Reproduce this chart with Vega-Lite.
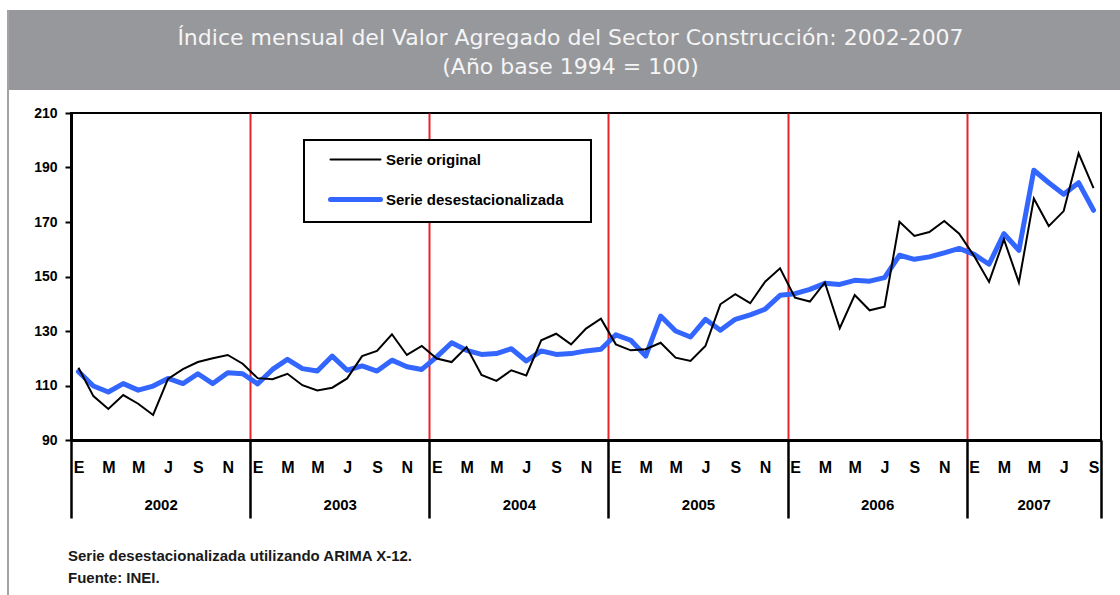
{
  "$schema": "https://vega.github.io/schema/vega-lite/v6.json",
  "background": "white",
  "padding": {"left": 7, "top": 10, "right": 0, "bottom": 0},
  "spacing": 0,
  "config": {"view": {"stroke": null}, "concat": {"spacing": 0}},
  "datasets": {
    "d": [
      {"mes": 0, "serie": "Serie original", "valor": 116.5},
      {"mes": 1, "serie": "Serie original", "valor": 106.1},
      {"mes": 2, "serie": "Serie original", "valor": 101.4},
      {"mes": 3, "serie": "Serie original", "valor": 106.5},
      {"mes": 4, "serie": "Serie original", "valor": 103.3},
      {"mes": 5, "serie": "Serie original", "valor": 99.2},
      {"mes": 6, "serie": "Serie original", "valor": 112.4},
      {"mes": 7, "serie": "Serie original", "valor": 116.0},
      {"mes": 8, "serie": "Serie original", "valor": 118.6},
      {"mes": 9, "serie": "Serie original", "valor": 120.0},
      {"mes": 10, "serie": "Serie original", "valor": 121.2},
      {"mes": 11, "serie": "Serie original", "valor": 118.0},
      {"mes": 12, "serie": "Serie original", "valor": 112.7},
      {"mes": 13, "serie": "Serie original", "valor": 112.3},
      {"mes": 14, "serie": "Serie original", "valor": 114.3},
      {"mes": 15, "serie": "Serie original", "valor": 110.1},
      {"mes": 16, "serie": "Serie original", "valor": 108.2},
      {"mes": 17, "serie": "Serie original", "valor": 109.2},
      {"mes": 18, "serie": "Serie original", "valor": 112.6},
      {"mes": 19, "serie": "Serie original", "valor": 120.8},
      {"mes": 20, "serie": "Serie original", "valor": 122.7},
      {"mes": 21, "serie": "Serie original", "valor": 128.8},
      {"mes": 22, "serie": "Serie original", "valor": 121.2},
      {"mes": 23, "serie": "Serie original", "valor": 124.5},
      {"mes": 24, "serie": "Serie original", "valor": 119.9},
      {"mes": 25, "serie": "Serie original", "valor": 118.6},
      {"mes": 26, "serie": "Serie original", "valor": 124.1},
      {"mes": 27, "serie": "Serie original", "valor": 113.9},
      {"mes": 28, "serie": "Serie original", "valor": 111.7},
      {"mes": 29, "serie": "Serie original", "valor": 115.6},
      {"mes": 30, "serie": "Serie original", "valor": 113.7},
      {"mes": 31, "serie": "Serie original", "valor": 126.6},
      {"mes": 32, "serie": "Serie original", "valor": 129.0},
      {"mes": 33, "serie": "Serie original", "valor": 125.1},
      {"mes": 34, "serie": "Serie original", "valor": 130.9},
      {"mes": 35, "serie": "Serie original", "valor": 134.5},
      {"mes": 36, "serie": "Serie original", "valor": 125.1},
      {"mes": 37, "serie": "Serie original", "valor": 122.9},
      {"mes": 38, "serie": "Serie original", "valor": 123.3},
      {"mes": 39, "serie": "Serie original", "valor": 125.7},
      {"mes": 40, "serie": "Serie original", "valor": 120.2},
      {"mes": 41, "serie": "Serie original", "valor": 119.0},
      {"mes": 42, "serie": "Serie original", "valor": 124.5},
      {"mes": 43, "serie": "Serie original", "valor": 139.8},
      {"mes": 44, "serie": "Serie original", "valor": 143.5},
      {"mes": 45, "serie": "Serie original", "valor": 140.2},
      {"mes": 46, "serie": "Serie original", "valor": 148.1},
      {"mes": 47, "serie": "Serie original", "valor": 153.0},
      {"mes": 48, "serie": "Serie original", "valor": 142.2},
      {"mes": 49, "serie": "Serie original", "valor": 140.8},
      {"mes": 50, "serie": "Serie original", "valor": 147.8},
      {"mes": 51, "serie": "Serie original", "valor": 131.0},
      {"mes": 52, "serie": "Serie original", "valor": 143.2},
      {"mes": 53, "serie": "Serie original", "valor": 137.6},
      {"mes": 54, "serie": "Serie original", "valor": 138.9},
      {"mes": 55, "serie": "Serie original", "valor": 170.1},
      {"mes": 56, "serie": "Serie original", "valor": 164.9},
      {"mes": 57, "serie": "Serie original", "valor": 166.3},
      {"mes": 58, "serie": "Serie original", "valor": 170.4},
      {"mes": 59, "serie": "Serie original", "valor": 165.7},
      {"mes": 60, "serie": "Serie original", "valor": 157.5},
      {"mes": 61, "serie": "Serie original", "valor": 148.0},
      {"mes": 62, "serie": "Serie original", "valor": 163.6},
      {"mes": 63, "serie": "Serie original", "valor": 147.8},
      {"mes": 64, "serie": "Serie original", "valor": 178.6},
      {"mes": 65, "serie": "Serie original", "valor": 168.5},
      {"mes": 66, "serie": "Serie original", "valor": 174.0},
      {"mes": 67, "serie": "Serie original", "valor": 195.2},
      {"mes": 68, "serie": "Serie original", "valor": 182.4},
      {"mes": 0, "serie": "Serie desestacionalizada", "valor": 115.1},
      {"mes": 1, "serie": "Serie desestacionalizada", "valor": 109.8},
      {"mes": 2, "serie": "Serie desestacionalizada", "valor": 107.6},
      {"mes": 3, "serie": "Serie desestacionalizada", "valor": 110.7},
      {"mes": 4, "serie": "Serie desestacionalizada", "valor": 108.3},
      {"mes": 5, "serie": "Serie desestacionalizada", "valor": 109.8},
      {"mes": 6, "serie": "Serie desestacionalizada", "valor": 112.6},
      {"mes": 7, "serie": "Serie desestacionalizada", "valor": 110.7},
      {"mes": 8, "serie": "Serie desestacionalizada", "valor": 114.3},
      {"mes": 9, "serie": "Serie desestacionalizada", "valor": 110.7},
      {"mes": 10, "serie": "Serie desestacionalizada", "valor": 114.7},
      {"mes": 11, "serie": "Serie desestacionalizada", "valor": 114.3},
      {"mes": 12, "serie": "Serie desestacionalizada", "valor": 110.6},
      {"mes": 13, "serie": "Serie desestacionalizada", "valor": 115.9},
      {"mes": 14, "serie": "Serie desestacionalizada", "valor": 119.6},
      {"mes": 15, "serie": "Serie desestacionalizada", "valor": 116.2},
      {"mes": 16, "serie": "Serie desestacionalizada", "valor": 115.3},
      {"mes": 17, "serie": "Serie desestacionalizada", "valor": 120.8},
      {"mes": 18, "serie": "Serie desestacionalizada", "valor": 115.6},
      {"mes": 19, "serie": "Serie desestacionalizada", "valor": 117.2},
      {"mes": 20, "serie": "Serie desestacionalizada", "valor": 115.3},
      {"mes": 21, "serie": "Serie desestacionalizada", "valor": 119.3},
      {"mes": 22, "serie": "Serie desestacionalizada", "valor": 116.9},
      {"mes": 23, "serie": "Serie desestacionalizada", "valor": 115.9},
      {"mes": 24, "serie": "Serie desestacionalizada", "valor": 120.5},
      {"mes": 25, "serie": "Serie desestacionalizada", "valor": 125.7},
      {"mes": 26, "serie": "Serie desestacionalizada", "valor": 122.9},
      {"mes": 27, "serie": "Serie desestacionalizada", "valor": 121.4},
      {"mes": 28, "serie": "Serie desestacionalizada", "valor": 121.7},
      {"mes": 29, "serie": "Serie desestacionalizada", "valor": 123.5},
      {"mes": 30, "serie": "Serie desestacionalizada", "valor": 119.0},
      {"mes": 31, "serie": "Serie desestacionalizada", "valor": 122.7},
      {"mes": 32, "serie": "Serie desestacionalizada", "valor": 121.4},
      {"mes": 33, "serie": "Serie desestacionalizada", "valor": 121.7},
      {"mes": 34, "serie": "Serie desestacionalizada", "valor": 122.7},
      {"mes": 35, "serie": "Serie desestacionalizada", "valor": 123.3},
      {"mes": 36, "serie": "Serie desestacionalizada", "valor": 128.6},
      {"mes": 37, "serie": "Serie desestacionalizada", "valor": 126.6},
      {"mes": 38, "serie": "Serie desestacionalizada", "valor": 120.8},
      {"mes": 39, "serie": "Serie desestacionalizada", "valor": 135.5},
      {"mes": 40, "serie": "Serie desestacionalizada", "valor": 130.0},
      {"mes": 41, "serie": "Serie desestacionalizada", "valor": 127.8},
      {"mes": 42, "serie": "Serie desestacionalizada", "valor": 134.3},
      {"mes": 43, "serie": "Serie desestacionalizada", "valor": 130.3},
      {"mes": 44, "serie": "Serie desestacionalizada", "valor": 134.3},
      {"mes": 45, "serie": "Serie desestacionalizada", "valor": 135.9},
      {"mes": 46, "serie": "Serie desestacionalizada", "valor": 138.0},
      {"mes": 47, "serie": "Serie desestacionalizada", "valor": 143.1},
      {"mes": 48, "serie": "Serie desestacionalizada", "valor": 143.7},
      {"mes": 49, "serie": "Serie desestacionalizada", "valor": 145.3},
      {"mes": 50, "serie": "Serie desestacionalizada", "valor": 147.5},
      {"mes": 51, "serie": "Serie desestacionalizada", "valor": 147.1},
      {"mes": 52, "serie": "Serie desestacionalizada", "valor": 148.6},
      {"mes": 53, "serie": "Serie desestacionalizada", "valor": 148.3},
      {"mes": 54, "serie": "Serie desestacionalizada", "valor": 149.6},
      {"mes": 55, "serie": "Serie desestacionalizada", "valor": 157.8},
      {"mes": 56, "serie": "Serie desestacionalizada", "valor": 156.3},
      {"mes": 57, "serie": "Serie desestacionalizada", "valor": 157.2},
      {"mes": 58, "serie": "Serie desestacionalizada", "valor": 158.7},
      {"mes": 59, "serie": "Serie desestacionalizada", "valor": 160.3},
      {"mes": 60, "serie": "Serie desestacionalizada", "valor": 158.1},
      {"mes": 61, "serie": "Serie desestacionalizada", "valor": 154.5},
      {"mes": 62, "serie": "Serie desestacionalizada", "valor": 165.7},
      {"mes": 63, "serie": "Serie desestacionalizada", "valor": 159.6},
      {"mes": 64, "serie": "Serie desestacionalizada", "valor": 189.0},
      {"mes": 65, "serie": "Serie desestacionalizada", "valor": 184.4},
      {"mes": 66, "serie": "Serie desestacionalizada", "valor": 180.2},
      {"mes": 67, "serie": "Serie desestacionalizada", "valor": 184.4},
      {"mes": 68, "serie": "Serie desestacionalizada", "valor": 174.3}
    ]
  },
  "hconcat": [
    {
      "width": 2,
      "height": 585,
      "view": {"fill": "#a3a3a3", "stroke": null},
      "data": {"values": [{}]},
      "mark": {"type": "text", "text": ""},
      "encoding": {}
    },
    {
      "spacing": 0,
      "vconcat": [
        {
          "width": 1111,
          "height": 80,
          "view": {"fill": "#97989b", "stroke": null},
          "data": {"values": [{"titulo": ["Índice mensual del Valor Agregado del Sector Construcción: 2002-2007", "(Año base 1994 = 100)"]}]},
          "mark": {"type": "text", "font": "DejaVu Sans", "fontSize": 22, "color": "#f5f5f5", "lineHeight": 29, "baseline": "middle", "align": "center", "dy": -12, "dx": 6},
          "encoding": {"text": {"field": "titulo", "type": "nominal"}}
        },
        {
          "spacing": 0,
          "hconcat": [
            {
              "width": 1,
              "height": 1,
              "view": {"stroke": null},
              "data": {"values": [{}]},
              "mark": {"type": "text", "text": ""},
              "encoding": {}
            },
            {
              "width": 1030,
              "height": 327,
              "view": {"fill": "white", "stroke": "black", "strokeWidth": 2},
              "data": {"name": "d"},
              "title": {
                "text": ["Serie desestacionalizada utilizando ARIMA X-12.", "Fuente: INEI."],
                "orient": "bottom",
                "anchor": "start",
                "frame": "group",
                "offset": 30,
                "dx": -3,
                "baseline": "top",
                "font": "Liberation Sans Narrow, Arial Narrow, Liberation Sans, Arial, sans-serif",
                "fontSize": 15,
                "fontWeight": "bold",
                "color": "#1a1a1a",
                "lineHeight": 22
              },
              "encoding": {
                "y": {
                  "field": "valor",
                  "type": "quantitative",
                  "scale": {"domain": [90, 210], "nice": false, "zero": false},
                  "axis": {
                    "values": [90, 110, 130, 150, 170, 190, 210],
                    "domain": true,
                    "domainColor": "black",
                    "domainWidth": 3,
                    "ticks": true,
                    "tickSize": 6,
                    "tickWidth": 2,
                    "tickColor": "black",
                    "grid": false,
                    "labelFont": "Liberation Sans Narrow, Arial Narrow, Liberation Sans, Arial, sans-serif",
                    "labelFontSize": 14,
                    "labelFontWeight": "bold",
                    "labelColor": "black",
                    "labelPadding": 8,
                    "title": ".",
                    "titleColor": "#ffffff",
                    "titleFontSize": 2,
                    "titleAngle": 0,
                    "titleAlign": "left",
                    "titleBaseline": "top",
                    "titleX": -60,
                    "titleY": -22
                  }
                },
                "color": {
                  "field": "serie",
                  "type": "nominal",
                  "scale": {"domain": ["Serie original", "Serie desestacionalizada"], "range": ["#000000", "#3366ff"]},
                  "legend": {
                    "orient": "none",
                    "legendX": 297,
                    "legendY": 130,
                    "direction": "vertical",
                    "title": "\u00a0",
                    "titleOrient": "right",
                    "titleFontSize": 16,
                    "titlePadding": 15,
                    "padding": 12,
                    "rowPadding": 21,
                    "strokeColor": "black",
                    "fillColor": "white",
                    "symbolType": "M-5,0L5,0",
                    "symbolSize": 100,
                    "symbolOffset": 32,
                    "labelOffset": 23,
                    "labelFont": "Liberation Sans Narrow, Arial Narrow, Liberation Sans, Arial, sans-serif",
                    "labelFontSize": 15,
                    "labelFontWeight": "bold",
                    "labelColor": "black",
                    "labelLimit": 400,
                    "encode": {
                      "legend": {"update": {"strokeWidth": {"value": 2}}},
                      "symbols": {"update": {"strokeWidth": {"signal": "datum.value === 'Serie original' ? 2 : 5"}, "strokeCap": {"value": "round"}}}
                    }
                  }
                }
              },
              "layer": [
                {
                  "transform": [{"filter": "datum.serie === 'Serie desestacionalizada'"}],
                  "mark": {"type": "line", "strokeWidth": 5, "strokeJoin": "round", "strokeCap": "round"},
                  "encoding": {
                    "x": {
                      "field": "mes",
                      "type": "quantitative",
                      "scale": {"domain": [-0.5, 68.5], "nice": false, "zero": false},
                      "axis": {
                        "orient": "bottom",
                        "values": [-0.5, 11.5, 23.5, 35.5, 47.5, 59.5, 68.5],
                        "domain": false,
                        "ticks": true,
                        "tickSize": 78,
                        "tickWidth": 2.5,
                        "tickColor": "black",
                        "grid": true,
                        "gridColor": {"condition": {"test": "datum.value > 0 && datum.value < 68", "value": "#e8232b"}, "value": "transparent"},
                        "gridWidth": 2,
                        "gridOpacity": 1,
                        "labelExpr": "datum.value < 68 ? '' + (2002 + round((datum.value + 0.5) / 12)) : ''",
                        "labelOffset": {"condition": {"test": "datum.value > 59", "value": 67}, "value": 89.6},
                        "labelPadding": -14,
                        "labelBaseline": "middle",
                        "labelAlign": "center",
                        "labelFont": "Liberation Sans Narrow, Arial Narrow, Liberation Sans, Arial, sans-serif",
                        "labelFontSize": 15,
                        "labelFontWeight": "bold",
                        "labelColor": "black",
                        "labelOverlap": false,
                        "labelFlush": false,
                        "title": null
                      }
                    }
                  }
                },
                {
                  "transform": [{"filter": "datum.serie === 'Serie original'"}],
                  "mark": {"type": "line", "strokeWidth": 2, "strokeJoin": "miter"},
                  "encoding": {
                    "x": {
                      "field": "mes",
                      "type": "quantitative",
                      "scale": {"domain": [-0.5, 68.5], "nice": false, "zero": false},
                      "axis": {
                        "orient": "bottom",
                        "values": [0, 2, 4, 6, 8, 10, 12, 14, 16, 18, 20, 22, 24, 26, 28, 30, 32, 34, 36, 38, 40, 42, 44, 46, 48, 50, 52, 54, 56, 58, 60, 62, 64, 66, 68],
                        "domain": true,
                        "domainColor": "black",
                        "domainWidth": 3,
                        "ticks": false,
                        "tickSize": 0,
                        "grid": false,
                        "labelExpr": "['E','F','M','A','M','J','J','A','S','O','N','D'][datum.value % 12]",
                        "labelPadding": 27,
                        "labelBaseline": "middle",
                        "labelAlign": "center",
                        "labelFont": "Liberation Sans Narrow, Arial Narrow, Liberation Sans, Arial, sans-serif",
                        "labelFontSize": 16,
                        "labelFontWeight": "bold",
                        "labelColor": "black",
                        "labelOverlap": false,
                        "labelFlush": false,
                        "title": null
                      }
                    }
                  }
                }
              ],
              "resolve": {"axis": {"x": "independent"}}
            }
          ]
        }
      ]
    }
  ]
}
